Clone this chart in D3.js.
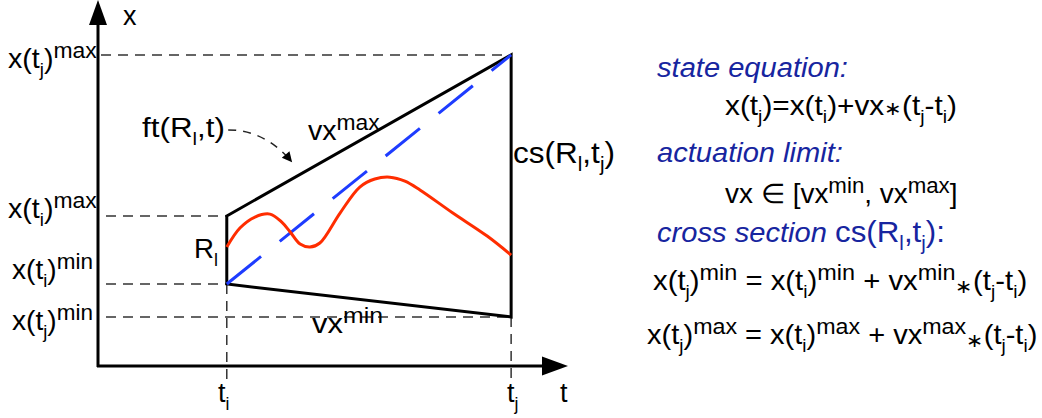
<!DOCTYPE html>
<html>
<head>
<meta charset="utf-8">
<script src="https://cdn.jsdelivr.net/npm/d3@7"></script>
<style>
  html, body { margin: 0; padding: 0; background: #fff; }
  svg { display: block; font-family: "Liberation Sans", Arial, Helvetica, sans-serif; }
  text { white-space: pre; }
</style>
</head>
<body>
<svg id="chart" width="1042" height="418"></svg>
<script>
// time stamps on the t axis (axis runs 0..100)
const timeNames = ["t_i", "t_j"];
const timeValues = [27.4, 87.9];

// reachable x at t_i (region R_l) and at t_j (cross section)
const boundNames = ["x(t_j)^{max}", "x(t_i)^{max}", "x(t_i)^{min}", "x(t_j)^{min}"];
const boundValues = [85.0, 41.0, 22.4, 13.4];

// one feasible trajectory (red)
const trajT = [27.4, 30.2, 33.4, 36.6, 39.1, 40.9, 43.0, 45.1, 47.2, 51.5, 55.7, 58.9, 62.1, 65.3, 68.5, 75.5, 82.8, 87.9];
const trajX = [32.5, 37.7, 40.7, 41.5, 39.3, 36.6, 33.3, 32.5, 33.6, 41.8, 48.9, 51.1, 51.6, 50.5, 48.1, 41.8, 35.5, 30.3];

// dashed pointer from ft(R_l,t) label: start, control, end
const pointerT = [27.7, 35.5, 41.3];
const pointerX = [64.5, 64.5, 55.7];

const svg = d3.select("#chart");

const t = d3.scaleLinear().domain([0, 100]).range([98, 568]);
const x = d3.scaleLinear().domain([0, 100]).range([366, 0]);

const ti = timeValues[0], tj = timeValues[1];
const [xjMax, xiMax, xiMin, xjMin] = boundValues;

svg.append("defs").append("marker")
  .attr("id", "ah")
  .attr("viewBox", "0 0 10 10")
  .attr("refX", 10).attr("refY", 5)
  .attr("markerWidth", 13).attr("markerHeight", 10)
  .attr("markerUnits", "userSpaceOnUse")
  .attr("orient", "auto")
  .append("path").attr("d", "M0,0L10,5L0,10Z").attr("fill", "#000");

// ---- dashed guide lines
const dash = svg.append("g")
  .attr("stroke", "#333").attr("stroke-width", 1.5)
  .attr("stroke-dasharray", "10,7").attr("fill", "none");

const hGuides = [
  { v: xjMax, to: tj, from: t(0) + 3 },
  { v: xiMax, to: ti, from: t(0) + 8 },
  { v: xiMin, to: ti, from: t(0) + 8 },
  { v: xjMin, to: tj, from: t(0) + 8 }
];
hGuides.forEach(g => {
  dash.append("line")
    .attr("x1", g.from).attr("x2", t(g.to))
    .attr("y1", x(g.v)).attr("y2", x(g.v));
});
dash.append("line").attr("x1", t(ti)).attr("x2", t(ti)).attr("y1", x(xiMin)).attr("y2", x(0) + 14);
dash.append("line").attr("x1", t(tj)).attr("x2", t(tj)).attr("y1", x(xjMin)).attr("y2", x(0) + 14);

// ---- axes with arrow heads
const ax = svg.append("g");
ax.append("line").attr("x1", t(0)).attr("x2", t(0)).attr("y1", x(0) + 1).attr("y2", x(100) + 20)
  .attr("stroke", "#000").attr("stroke-width", 3);
ax.append("path")
  .attr("d", `M${t(0)},${x(100)}L${t(0) - 9},${x(100) + 25}L${t(0) + 9},${x(100) + 25}Z`)
  .attr("fill", "#000");
ax.append("line").attr("x1", t(0) - 1).attr("x2", t(100) - 20).attr("y1", x(0)).attr("y2", x(0))
  .attr("stroke", "#000").attr("stroke-width", 3);
ax.append("path")
  .attr("d", `M${t(100)},${x(0)}L${t(100) - 26},${x(0) - 9.5}L${t(100) - 26},${x(0) + 9.5}Z`)
  .attr("fill", "#000");

// ---- reachable region outline
const outline = [[ti, xiMax], [tj, xjMax], [tj, xjMin], [ti, xiMin]];
svg.append("path")
  .attr("d", d3.line().x(d => t(d[0])).y(d => x(d[1]))(outline) + "Z")
  .attr("fill", "none").attr("stroke", "#000").attr("stroke-width", 3)
  .attr("stroke-linejoin", "miter");

// ---- blue dashed straight trajectory
svg.append("line")
  .attr("x1", t(ti)).attr("y1", x(xiMin))
  .attr("x2", t(tj)).attr("y2", x(xjMax))
  .attr("stroke", "#1e3cff").attr("stroke-width", 3)
  .attr("stroke-dasharray", "44,24");

// ---- red trajectory
svg.append("path")
  .attr("d", d3.line().curve(d3.curveCatmullRom.alpha(0.5))
    .x((d, i) => t(trajT[i])).y((d, i) => x(trajX[i]))(trajT))
  .attr("fill", "none").attr("stroke", "#ff2d00").attr("stroke-width", 3);

// ---- ft pointer
svg.append("path")
  .attr("d", `M${t(pointerT[0])},${x(pointerX[0])}Q${t(pointerT[1])},${x(pointerX[1])} ${t(pointerT[2])},${x(pointerX[2])}`)
  .attr("fill", "none").attr("stroke", "#222").attr("stroke-width", 1.5)
  .attr("stroke-dasharray", "8,7")
  .attr("marker-end", "url(#ah)");

// ---- rich text helper: _x / _{..} subscript, ^{..} superscript, ~{..} small star
function parseRich(str) {
  const segs = [];
  let i = 0, buf = "";
  while (i < str.length) {
    const c = str[i];
    if (c === "_" || c === "^" || c === "~") {
      if (buf) { segs.push({ s: buf, k: "n" }); buf = ""; }
      let content;
      if (str[i + 1] === "{") {
        const j = str.indexOf("}", i);
        content = str.slice(i + 2, j);
        i = j + 1;
      } else {
        content = str[i + 1];
        i += 2;
      }
      segs.push({ s: content, k: c === "_" ? "sub" : c === "^" ? "sup" : "small" });
    } else { buf += c; i++; }
  }
  if (buf) segs.push({ s: buf, k: "n" });
  return segs;
}

function rich(spec) {
  const size = spec.size || 27;
  const txt = svg.append("text")
    .attr("transform", `translate(${spec.x},${spec.y})`)
    .attr("font-size", size)
    .attr("fill", spec.color || "#000")
    .attr("font-style", spec.italic ? "italic" : "normal");
  let shift = 0;
  parseRich(spec.text).forEach(p => {
    const target = p.k === "sup" ? -0.38 * size : p.k === "sub" ? 0.28 * size
      : p.k === "small" ? (spec.lowStar ? 0.12 * size : 0) : 0;
    const fs = p.k === "sup" ? 0.8 * size : p.k === "sub" ? 0.65 * size : p.k === "small" ? 0.7 * size : size;
    txt.append("tspan")
      .attr("dy", target - shift)
      .attr("font-size", fs)
      .text(p.s);
    shift = target;
  });
  if (spec.w) {
    const bw = txt.node().getBBox().width;
    txt.attr("transform", `translate(${spec.x},${spec.y}) scale(${spec.w / bw},1)`);
  }
}

const blue = "#17259f";
const labels = [
  { text: "x", x: 123, y: 25 },
  { text: "t", x: 560, y: 402 },
  { text: timeNames[0], x: 218, y: 402 },
  { text: timeNames[1], x: 507, y: 402 },
  { text: boundNames[0], x: 8, y: 68, w: 89 },
  { text: boundNames[1], x: 8, y: 218, w: 89 },
  { text: boundNames[2], x: 12, y: 279, w: 81 },
  { text: boundNames[3], x: 12, y: 330, w: 81 },
  { text: "R_l", x: 194, y: 258, w: 24 },
  { text: "ft(R_l,t)", x: 142, y: 137, w: 83 },
  { text: "vx^{max}", x: 308, y: 140, w: 72 },
  { text: "vx^{min}", x: 312, y: 333, w: 71 },
  { text: "cs(R_l,t_j)", x: 513, y: 163, w: 102, size: 30 },
  { text: "state equation:", x: 657, y: 77, w: 191, italic: true, color: blue },
  { text: "x(t_j)=x(t_i)+vx~{∗}(t_j-t_i)", x: 725, y: 115, w: 232 },
  { text: "actuation limit:", x: 657, y: 162, w: 186, italic: true, color: blue },
  { text: "vx ∈ [vx^{min}, vx^{max}]", x: 725, y: 203, w: 233 },
  { text: "cross section", x: 657, y: 242, w: 170, italic: true, color: blue },
  { text: "cs(R_l,t_j):", x: 835, y: 242, w: 110, size: 30, color: blue },
  { text: "x(t_j)^{min} = x(t_i)^{min} + vx^{min}~{∗}(t_j-t_i)", x: 653, y: 290, w: 374, lowStar: true },
  { text: "x(t_j)^{max} = x(t_i)^{max} + vx^{max}~{∗}(t_j-t_i)", x: 647, y: 344, w: 390, lowStar: true }
];
labels.forEach(rich);
</script>
</body>
</html>
